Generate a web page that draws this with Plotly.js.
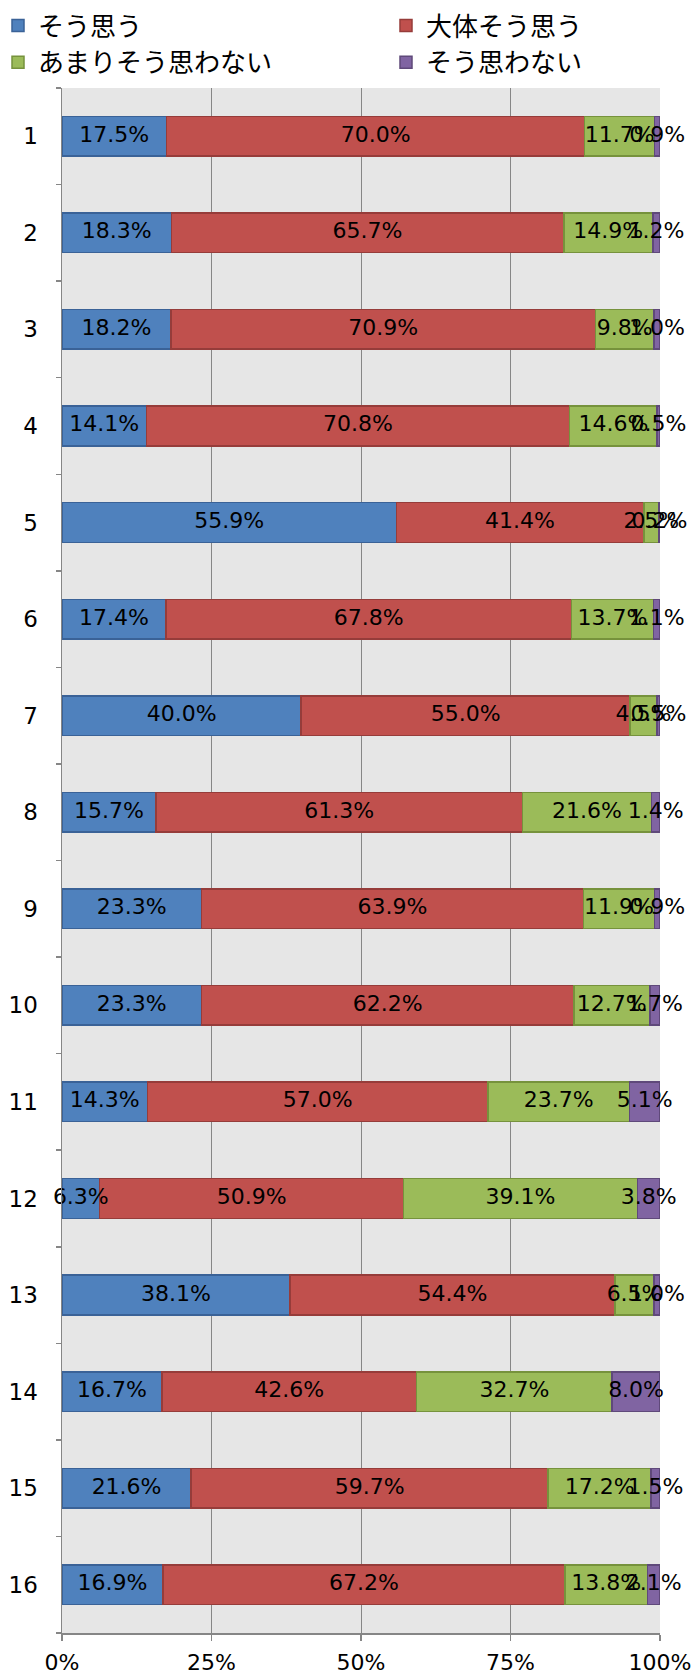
<!DOCTYPE html>
<html>
<head>
<meta charset="utf-8">
<script src="https://cdn.plot.ly/plotly-3.0.1.min.js"></script>
<style>
html,body{margin:0;padding:0;background:#fff;}
#chart{width:694px;height:1676px;}
</style>
</head>
<body>
<div id="chart"></div>
<script>
// Categories (top to bottom)
const categories = ['1','2','3','4','5','6','7','8','9','10','11','12','13','14','15','16'];
// Series names
const seriesNames = ['そう思う','大体そう思う','あまりそう思わない','そう思わない'];
// Series values (%)
const soOmou        = [17.5, 18.3, 18.2, 14.1, 55.9, 17.4, 40.0, 15.7, 23.3, 23.3, 14.3,  6.3, 38.1, 16.7, 21.6, 16.9];
const daitaiOmou    = [70.0, 65.7, 70.9, 70.8, 41.4, 67.8, 55.0, 61.3, 63.9, 62.2, 57.0, 50.9, 54.4, 42.6, 59.7, 67.2];
const amariOmowanai = [11.7, 14.9,  9.8, 14.6,  2.5, 13.7,  4.5, 21.6, 11.9, 12.7, 23.7, 39.1,  6.5, 32.7, 17.2, 13.8];
const soOmowanai    = [ 0.9,  1.2,  1.0,  0.5,  0.2,  1.1,  0.5,  1.4,  0.9,  1.7,  5.1,  3.8,  1.0,  8.0,  1.5,  2.1];
// X tick labels
const xTickVals = [0, 25, 50, 75, 100];
const xTickText = ['0%', '25%', '50%', '75%', '100%'];

const fillColors = ['#4F81BD', '#C0504D', '#9BBB59', '#8064A2'];
const lineColors = ['#3A6297', '#963C3A', '#76923C', '#5F497A'];
const seriesData = [soOmou, daitaiOmou, amariOmowanai, soOmowanai];
const legendIds = ['legend', 'legend2', 'legend', 'legend2'];

const yIdx = categories.map((c, i) => i);
const nBands = categories.length;
const boundaries = [];
for (let i = 0; i <= nBands; i++) boundaries.push(i - 0.5);

const numFont = 'DejaVu Sans, Noto Sans CJK JP, sans-serif';
const jpFont = 'Noto Sans CJK JP, DejaVu Sans, sans-serif';

const barTraces = seriesData.map((vals, k) => ({
  type: 'bar',
  orientation: 'h',
  name: seriesNames[k],
  x: vals,
  y: yIdx,
  marker: {color: fillColors[k], line: {color: lineColors[k], width: 1.5}},
  width: 0.41,
  legend: legendIds[k],
  hoverinfo: 'name+x'
}));

// Data labels: centred in each (normalised to 100%) segment
const totals = yIdx.map(i => seriesData.reduce((s, arr) => s + arr[i], 0));
const labelTraces = seriesData.map((vals, k) => ({
  type: 'scatter',
  mode: 'text',
  showlegend: false,
  cliponaxis: false,
  x: yIdx.map(i => {
    let before = 0;
    for (let j = 0; j < k; j++) before += seriesData[j][i];
    return (before + vals[i] / 2) / totals[i] * 100;
  }),
  y: yIdx,
  text: vals.map(v => v.toFixed(1) + '%'),
  textposition: 'middle center',
  textfont: {family: numFont, size: 22, color: '#000'},
  hoverinfo: 'skip'
}));

const W = 694, H = 1676;
const mL = 62, mR = 34, mT = 88, mB = 43;
const pw = W - mL - mR, ph = H - mT - mB;

const legendCommon = {
  orientation: 'v',
  xanchor: 'left',
  y: 1 + (mT - 2) / ph,
  yanchor: 'top',
  font: {family: jpFont, size: 26, color: '#000'},
  bgcolor: 'rgba(0,0,0,0)',
  borderwidth: 0,
  traceorder: 'normal',
  itemclick: false
};

const layout = {
  width: W, height: H,
  margin: {l: mL, r: mR, t: mT, b: mB, pad: 0, autoexpand: false},
  paper_bgcolor: '#ffffff',
  plot_bgcolor: '#e6e6e6',
  barmode: 'stack',
  barnorm: 'percent',
  font: {family: numFont, color: '#000'},
  xaxis: {
    range: [0, 100],
    tickvals: xTickVals,
    ticktext: xTickText,
    showgrid: true,
    gridcolor: '#868686',
    gridwidth: 1,
    zeroline: false,
    showline: true,
    linecolor: '#868686',
    linewidth: 1.5,
    ticks: 'outside',
    ticklen: 6,
    tickcolor: '#868686',
    tickwidth: 1.5,
    ticklabelstandoff: 3,
    tickfont: {family: numFont, size: 22, color: '#000'},
    automargin: false,
    fixedrange: true
  },
  yaxis: {
    range: [nBands - 0.5, -0.5],
    tickmode: 'array',
    tickvals: yIdx,
    ticktext: categories,
    ticks: '',
    showgrid: false,
    zeroline: false,
    showline: true,
    linecolor: '#868686',
    linewidth: 1.5,
    ticklabelstandoff: 18,
    tickfont: {family: numFont, size: 23, color: '#000'},
    minor: {
      tickmode: 'array',
      tickvals: boundaries,
      ticks: 'outside',
      ticklen: 5,
      tickcolor: '#868686',
      tickwidth: 1.5,
      showgrid: false
    },
    automargin: false,
    fixedrange: true
  },
  showlegend: true,
  legend: Object.assign({}, legendCommon, {x: (-2 - mL) / pw}),
  legend2: Object.assign({}, legendCommon, {x: (386 - mL) / pw})
};

Plotly.newPlot('chart', barTraces.concat(labelTraces), layout, {displayModeBar: false, staticPlot: true});
</script>
</body>
</html>
